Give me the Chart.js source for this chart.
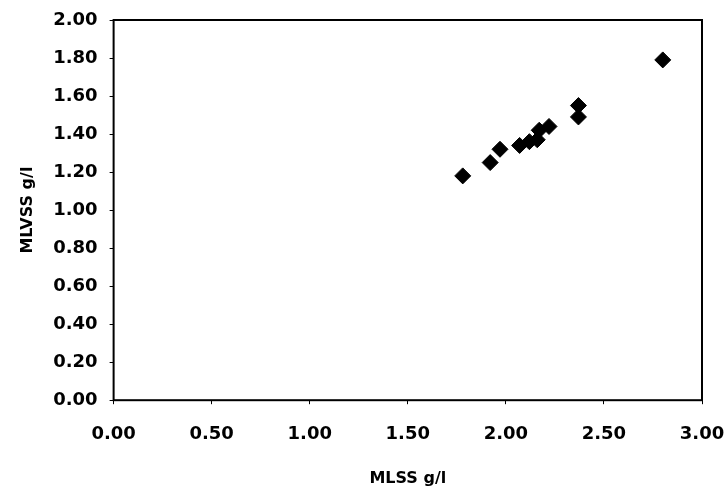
<!DOCTYPE html>
<html>
<head>
<meta charset="utf-8">
<script src="https://cdn.jsdelivr.net/npm/chart.js@4.4.0/dist/chart.umd.min.js"></script>
<style>
  html, body { margin: 0; padding: 0; background: #fff; }
  #wrap { width: 728px; height: 494px; }
</style>
</head>
<body>
<div id="wrap"><canvas id="chart1" width="728" height="494"></canvas></div>
<script>
// MLSS (x) vs MLVSS (y), g/l
var mlss = [1.78, 1.92, 1.97, 2.07, 2.12, 2.16, 2.17, 2.22, 2.37, 2.37, 2.80];
var mlvss = [1.18, 1.25, 1.32, 1.34, 1.36, 1.37, 1.42, 1.44, 1.55, 1.49, 1.79];

var xTicks = [0, 0.5, 1, 1.5, 2, 2.5, 3];
var yTicks = [0, 0.2, 0.4, 0.6, 0.8, 1, 1.2, 1.4, 1.6, 1.8, 2];

var points = mlss.map(function (x, i) {
    return { x: x, y: mlvss[i] };
});

var fontFamily = "'DejaVu Sans', Arial, sans-serif";

// box round the plot area
var frame = {
    id: "frame",
    afterDraw: function (chart) {
        var a = chart.chartArea;
        var c = chart.ctx;
        c.save();
        c.strokeStyle = "#000";
        c.lineWidth = 2;
        c.strokeRect(a.left, a.top, a.right - a.left, a.bottom - a.top);
        c.restore();
    },
};

var ctx = document.getElementById("chart1").getContext("2d");
var myChart = new Chart(ctx, {
    type: "scatter",
    data: {
        datasets: [
            {
                label: "MLVSS",
                data: points,
                pointStyle: "rectRot",
                pointRadius: 8,
                pointHoverRadius: 8,
                backgroundColor: "#000",
                borderColor: "#000",
                borderWidth: 1,
            },
        ],
    },
    options: {
        responsive: false,
        animation: false,
        layout: { padding: { left: 18, right: 0, top: 4, bottom: 4 } },
        plugins: {
            legend: { display: false },
            tooltip: { enabled: false },
        },
        scales: {
            x: {
                type: "linear",
                min: 0,
                max: 3,
                afterBuildTicks: function (axis) {
                    axis.ticks = xTicks.map(function (v) { return { value: v }; });
                },
                afterFit: function (axis) {
                    // keep the plot wide, like the original
                    axis.paddingRight = 26;
                },
                grid: { drawOnChartArea: false, drawTicks: true, tickLength: 4, color: "#000" },
                border: { display: false },
                ticks: {
                    color: "#000",
                    padding: 19,
                    maxRotation: 0,
                    font: { family: fontFamily, size: 18, weight: "bold" },
                    callback: function (v) { return Number(v).toFixed(2); },
                },
                title: {
                    display: true,
                    text: "MLSS g/l",
                    color: "#000",
                    padding: { top: 5, bottom: 2 },
                    font: { family: fontFamily, size: 16, weight: "bold" },
                },
            },
            y: {
                type: "linear",
                min: 0,
                max: 2,
                afterBuildTicks: function (axis) {
                    axis.ticks = yTicks.map(function (v) { return { value: v }; });
                },
                afterFit: function (axis) {
                    axis.paddingTop = 20;
                },
                grid: { drawOnChartArea: false, drawTicks: true, tickLength: 4, color: "#000" },
                border: { display: false },
                ticks: {
                    color: "#000",
                    padding: 12,
                    font: { family: fontFamily, size: 18, weight: "bold" },
                    callback: function (v) { return Number(v).toFixed(2); },
                },
                title: {
                    display: true,
                    text: "MLVSS g/l",
                    color: "#000",
                    padding: { top: 0, bottom: 4 },
                    font: { family: fontFamily, size: 16, weight: "bold" },
                },
            },
        },
    },
    plugins: [frame],
});
</script>
</body>
</html>
